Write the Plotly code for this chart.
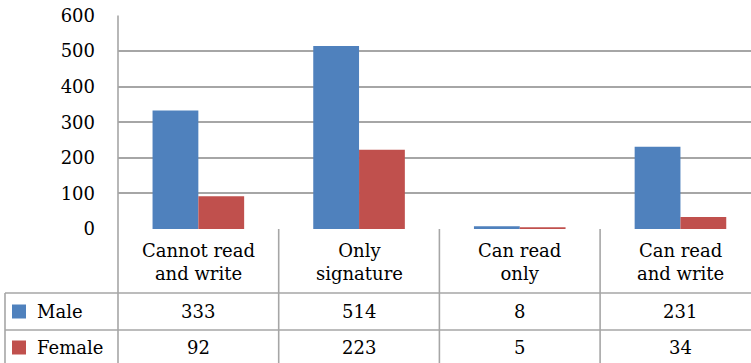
import plotly.graph_objects as go

# Literacy level by gender
categories = ["Cannot read<br>and write", "Only<br>signature", "Can read<br>only", "Can read<br>and write"]
series_names = ["Male", "Female"]
male = [333, 514, 8, 231]
female = [92, 223, 5, 34]
y_ticks = [0, 100, 200, 300, 400, 500, 600]

colors = ["#4F81BD", "#C0504D"]
W, H = 751, 363
FONT = "'DejaVu Serif', 'Liberation Serif', serif"
FS = 18
LINE = "#A6A6A6"

def px(x):
    return x / W

def py(y):
    return 1 - y / H

# plot area geometry (pixels)
left, zero_y, top_y = 118, 229, 15.5
col_w = 160.7
x_span = (W - left) / col_w

fig = go.Figure()
for name, vals, c in zip(series_names, [male, female], colors):
    fig.add_trace(go.Bar(x=list(range(len(categories))), y=vals, name=name,
                         marker=dict(color=c, line=dict(width=0)), showlegend=False))

shapes = []
def hline(x0, x1, y):
    shapes.append(dict(type="line", xref="paper", yref="paper", x0=px(x0), x1=px(x1),
                       y0=py(y), y1=py(y), line=dict(color=LINE, width=1.6)))

def vline(x, y0, y1):
    shapes.append(dict(type="line", xref="paper", yref="paper", x0=px(x), x1=px(x),
                       y0=py(y0), y1=py(y1), line=dict(color=LINE, width=1.6)))

# data table grid
row_tops = [293, 330]
for y in row_tops:
    hline(5, W, y)
vline(5, 293, H)
for i in range(len(categories) + 1):
    vline(left + i * col_w, zero_y, H)
vline(left, top_y, zero_y)

annotations = []
for i, cat in enumerate(categories):
    annotations.append(dict(x=i, xref="x", y=py(262), yref="paper", text=cat, showarrow=False,
                            font=dict(family=FONT, size=FS, color="#000"), align="center",
                            xanchor="center", yanchor="middle"))

row_centers = [311.5, 347.5]
for r, (name, vals, c) in enumerate(zip(series_names, [male, female], colors)):
    yc = row_centers[r]
    shapes.append(dict(type="rect", xref="paper", yref="paper", x0=px(12), x1=px(26),
                       y0=py(yc - 7), y1=py(yc + 7), fillcolor=c, line=dict(width=0)))
    annotations.append(dict(x=px(35), xref="paper", y=py(yc), yref="paper", text=name,
                            showarrow=False, xanchor="left", yanchor="middle",
                            font=dict(family=FONT, size=FS, color="#000")))
    for i, v in enumerate(vals):
        annotations.append(dict(x=i, xref="x", y=py(yc), yref="paper", text=str(v),
                                showarrow=False, xanchor="center", yanchor="middle",
                                font=dict(family=FONT, size=FS, color="#000")))

fig.update_layout(
    template="none",
    font=dict(family=FONT, size=FS, color="#000"),
    width=W, height=H, margin=dict(l=0, r=0, t=0, b=0, pad=0, autoexpand=False),
    paper_bgcolor="white", plot_bgcolor="white",
    barmode="group", bargap=0.43, bargroupgap=0,
    shapes=shapes, annotations=annotations,
    xaxis=dict(domain=[px(left), 1], range=[-0.5, -0.5 + x_span], showticklabels=False,
               showgrid=False, zeroline=False, showline=False, ticks="", automargin=False),
    yaxis=dict(domain=[py(zero_y), py(top_y)], range=[0, 600], tickvals=y_ticks,
               showgrid=True, gridcolor=LINE, gridwidth=1.6, zeroline=False,
               showline=False, ticks="", ticklabelstandoff=22, automargin=False,
               tickfont=dict(family=FONT, size=FS, color="#000")),
)

fig.write_html("out.html")
